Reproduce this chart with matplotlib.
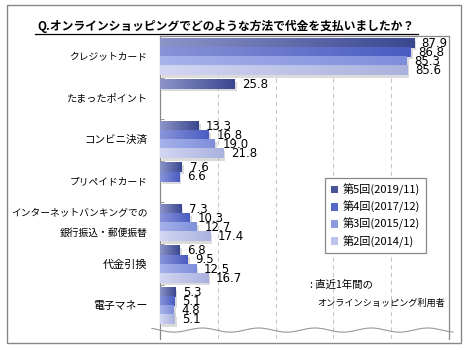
import numpy as np
import matplotlib
matplotlib.use("Agg")
import matplotlib.pyplot as plt
from matplotlib.patches import Patch, Rectangle
from matplotlib.colors import to_rgba
import matplotlib.patheffects as pe

plt.rcParams['font.family'] = ['Noto Sans CJK JP', 'DejaVu Sans']

categories = ["クレジットカード", "たまったポイント", "コンビニ決済", "プリペイドカード",
              "インターネットバンキングでの\n銀行振込・郵便振替", "代金引換", "電子マネー"]
series_names = ["第5回(2019/11)", "第4回(2017/12)", "第3回(2015/12)", "第2回(2014/1)"]
s5 = [87.9, 25.8, 13.3, 7.6, 7.3, 6.8, 5.3]
s4 = [86.8, None, 16.8, 6.6, 10.3, 9.5, 5.1]
s3 = [85.3, None, 19.0, None, 12.7, 12.5, 4.8]
s2 = [85.6, None, 21.8, None, 17.4, 16.7, 5.1]
series = [s5, s4, s3, s2]

# (left, right) gradient colours and legend colour per series
grad = [("#8c94c8", "#3a4790"), ("#8894d8", "#4a5cc2"),
        ("#a6b2ea", "#7f8edc"), ("#d2d6f2", "#aab2de")]
legend_cols = ["#4a5598", "#5568c8", "#8c9ae0", "#bcc3ea"]
# kana is narrow in the original font, so kana-heavy labels get a smaller size
label_sizes = [7, 7.3, 7.6, 7, 7, 8, 7.8]

fig = plt.figure(figsize=(4.7, 3.5), dpi=100)
ax = fig.add_axes([160/470, 1-339/350, 289/470, 303/350])

h = 0.222
offsets = [-1.5*h, -0.5*h, 0.5*h, 1.5*h]
pos = np.arange(len(categories))

for k, vals in enumerate(series):
    idx = [i for i, v in enumerate(vals) if v is not None]
    ys = pos[idx] + offsets[k]
    ws = [vals[i] for i in idx]
    bars = ax.barh(ys, ws, height=h, color=grad[k][1], zorder=2,
                   path_effects=[pe.SimplePatchShadow(offset=(1.5, -1.5), shadow_rgbFace='#999999', alpha=0.35),
                                 pe.Normal()])
    c0 = np.array(to_rgba(grad[k][0]))
    c1 = np.array(to_rgba(grad[k][1]))
    t = np.linspace(0, 1, 128)[:, None]
    img = (c0 * (1 - t) + c1 * t)[None, :, :]
    for b in bars:
        x0, y0 = b.get_x(), b.get_y()
        ax.imshow(img, extent=(x0, x0 + b.get_width(), y0 + b.get_height(), y0),
                  aspect='auto', zorder=3, interpolation='bilinear')
    for y, w in zip(ys, ws):
        ax.annotate(f"{w:.1f}", (w, y), xytext=(5.5, 0), textcoords='offset points',
                    va='center', ha='left', fontsize=8.5, family='DejaVu Sans', zorder=4)

ax.set_xlim(0, 100)
ax.set_ylim(6.795, -0.506)
ax.set_xticks([20, 40, 60, 80])
ax.tick_params(axis='x', length=0, labelbottom=False)
ax.grid(axis='x', linestyle=(0, (4, 3)), color='#c8c8c8', linewidth=0.8)
ax.set_axisbelow(True)

ax.set_yticks(pos)
ax.set_yticklabels(categories, linespacing=2.1)
for lab, fs in zip(ax.get_yticklabels(), label_sizes):
    lab.set_fontsize(fs)
    lab.set_va('center')
ax.tick_params(axis='y', length=0, pad=9)
ax.set_yticks(pos[:-1] + 0.5, minor=True)
ax.tick_params(axis='y', which='minor', length=3, direction='in', color='#888888')

for s in ['left', 'top', 'right']:
    ax.spines[s].set_color('#888888')
    ax.spines[s].set_linewidth(0.9)
ax.spines['bottom'].set_visible(False)

# wavy break line
wx = np.linspace(-2.8, 101.4, 400)
wy = 6.58 + 0.05 * np.sin(2 * np.pi * wx / 19.5)
ax.plot(wx, wy, color='#999999', linewidth=0.8, clip_on=False, zorder=5)

handles = [Patch(facecolor=c, edgecolor='none') for c in legend_cols]
leg = ax.legend(handles, series_names, loc='upper left', bbox_to_anchor=(325/470, 1-178/350),
                bbox_transform=fig.transFigure, borderaxespad=0, fontsize=8,
                handlelength=0.7, handleheight=0.7, handletextpad=0.4,
                labelspacing=0.45, fancybox=False, framealpha=1, edgecolor='#888888',
                borderpad=0.5)
leg.get_frame().set_linewidth(0.9)

fig.text(310/470, 1-285/350, ": 直近1年間の", fontsize=7.5, va='center', ha='left')
fig.text(317/470, 1-303/350, "オンラインショッピング利用者", fontsize=6.6, va='center', ha='left')

fig.text(226/470, 1-26/350, "Q.オンラインショッピングでどのような方法で代金を支払いましたか？",
         fontsize=8.5, fontweight='bold', ha='center', va='center')
fig.add_artist(plt.Line2D([35/470, 418/470], [1-33.5/350, 1-33.5/350], color='black', linewidth=0.9))

fig.add_artist(Rectangle((7/470, 1-343/350), 454/470, 338/350, fill=False,
                         edgecolor='#888888', linewidth=1.0, transform=fig.transFigure))

fig.savefig("out.png", dpi=100)
